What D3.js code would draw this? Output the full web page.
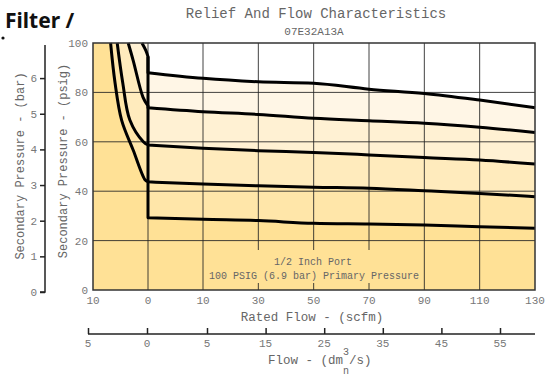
<!DOCTYPE html>
<html><head><meta charset="utf-8">
<script src="https://cdn.jsdelivr.net/npm/d3@7"></script>
<style>body{margin:0;background:#fff}svg{display:block}</style>
</head><body>
<svg id="c" width="548" height="379"></svg>
<script>
// ---- data ----
const titleText = "Relief And Flow Characteristics";
const subtitleText = "07E32A13A";
const scfmTicks = [-10, 0, 10, 30, 50, 70, 90, 110, 130];
const scfmTickLabels = ["10", "0", "10", "30", "50", "70", "90", "110", "130"];
const dmTicks = [-5, 0, 5, 15, 25, 35, 45, 55];
const dmTickLabels = ["5", "0", "5", "15", "25", "35", "45", "55"];
const psigTicks = [0, 20, 40, 60, 80, 100];
const barTicks = [0, 1, 2, 3, 4, 5, 6];

const flowX = [0, 10, 30, 50, 70, 90, 110, 130];
const flow1 = [29.3, 28.6, 28.1, 27.0, 26.7, 26.3, 25.6, 25.0];
const flow2 = [43.8, 42.9, 42.2, 41.6, 41.2, 40.2, 39.1, 37.8];
const flow3 = [58.7, 57.4, 56.4, 55.7, 54.7, 53.6, 52.6, 51.0];
const flow4 = [73.8, 72.2, 71.1, 69.5, 68.5, 67.5, 65.9, 63.8];
const flow5 = [88.0, 85.7, 84.3, 83.7, 81.3, 79.6, 76.9, 73.8];

const relief1X = [-6.8, -6.0, -4.8, -2.7, -0.5, 0];
const relief1P = [100, 84, 68.8, 56.7, 44.5, 43.8];
const relief2X = [-5.6, -4.6, -3.3, -0.85, 0];
const relief2P = [100, 84, 68.8, 60, 58.7];
const relief3X = [-3.6, -2.7, -0.9, 0];
const relief3P = [100, 93, 78, 74.5];
const relief4X = [-1.1, -0.4, 0];
const relief4P = [100, 97, 94.5];
const relief5X = [0];
const relief5P = [94.5];

const bandColors = ["#FFE196", "#FFE6A9", "#FFEBBD", "#FFF1D3", "#FFF6E6"];

// ---- scales ----
const svg = d3.select("#c");
const x = d3.scaleLinear().domain([-10, 0, 10, 130]).range([93, 148, 203, 535]);
const y = d3.scaleLinear().domain([0, 100]).range([290, 43]);
const yBar = d3.scaleLinear().domain([0, 6.9]).range([292, 46]);
const xDm = d3.scaleLinear().domain([-5, 0, 5, 55]).range([88, 147, 207, 500]);

const curves = [
  {rx: relief1X, rp: relief1P, f: flow1},
  {rx: relief2X, rp: relief2P, f: flow2},
  {rx: relief3X, rp: relief3P, f: flow3},
  {rx: relief4X, rp: relief4P, f: flow4},
  {rx: relief5X, rp: relief5P, f: flow5}
];

const reliefLine = d3.line().x(d => x(d[0])).y(d => y(d[1])).curve(d3.curveCatmullRom);
const flowLine = d3.line().x(d => x(d[0])).y(d => y(d[1])).curve(d3.curveMonotoneX);

function curvePath(c) {
  const rpts = c.rx.map((v, i) => [v, c.rp[i]]);
  const fpts = flowX.map((v, i) => [v, c.f[i]]);
  let p = rpts.length > 1 ? reliefLine(rpts) : `M${x(rpts[0][0])},${y(rpts[0][1])}`;
  p += "L" + flowLine(fpts).slice(1);
  return p;
}

// background
svg.append("rect").attr("x", x(-10)).attr("y", y(100)).attr("width", x(130) - x(-10)).attr("height", y(0) - y(100)).attr("fill", "#fff");

// fills: lightest first
for (let i = curves.length - 1; i >= 0; i--) {
  const c = curves[i];
  let p = `M${x(-10)},${y(100)}L${x(c.rx[0])},${y(100)}`;
  p += "L" + curvePath(c).slice(1);
  p += `L${x(130)},${y(0)}L${x(-10)},${y(0)}Z`;
  svg.append("path").attr("d", p).attr("fill", bandColors[i]);
}

// grid
const g = svg.append("g").attr("stroke", "#222").attr("stroke-width", 1).attr("stroke-opacity", 0.85);
scfmTicks.slice(1, -1).forEach(v => g.append("line").attr("x1", x(v)).attr("x2", x(v)).attr("y1", y(0)).attr("y2", y(100)));
psigTicks.slice(1, -1).forEach(v => g.append("line").attr("x1", x(-10)).attr("x2", x(130)).attr("y1", y(v)).attr("y2", y(v)));

const font = "Liberation Mono, DejaVu Sans Mono, monospace";
const gray = "#777";

// annotation box
svg.append("rect").attr("x", 210).attr("y", 250).attr("width", 206).attr("height", 33).attr("fill", bandColors[0]);
const ann = svg.append("g").attr("font-family", font).attr("font-size", 10).attr("fill", "#666").attr("text-anchor", "middle");
ann.append("text").attr("x", 313).attr("y", 265).text("1/2 Inch Port");
ann.append("text").attr("x", 314).attr("y", 279).text("100 PSIG (6.9 bar) Primary Pressure");

// curves
curves.forEach(c => {
  svg.append("path").attr("d", curvePath(c)).attr("fill", "none").attr("stroke", "#000").attr("stroke-width", 3).attr("stroke-linejoin", "round");
});

// border
svg.append("rect").attr("x", x(-10)).attr("y", y(100)).attr("width", x(130) - x(-10)).attr("height", y(0) - y(100))
  .attr("fill", "none").attr("stroke", "#333").attr("stroke-width", 1.5);

// psig labels
const yl = svg.append("g").attr("font-family", font).attr("font-size", 11).attr("fill", gray).attr("text-anchor", "end");
psigTicks.forEach(v => yl.append("text").attr("x", 88).attr("y", y(v) + 4).text(v));

// bar axis
const ba = svg.append("g").attr("transform", "translate(45,0)")
  .call(d3.axisLeft(yBar).tickValues(barTicks).tickSize(5).tickPadding(3).tickFormat(d3.format("d")));
ba.select(".domain").attr("stroke", "#222").attr("stroke-width", 1.5).attr("d", `M-5,${yBar(0)}H0V45`);
ba.selectAll(".tick line").attr("stroke", "#222").attr("stroke-width", 1.5);
ba.selectAll("text").attr("font-family", font).attr("font-size", 11).attr("fill", gray);

// scfm labels
const xl = svg.append("g").attr("font-family", font).attr("font-size", 11).attr("fill", gray).attr("text-anchor", "middle");
scfmTicks.forEach((v, i) => xl.append("text").attr("x", x(v)).attr("y", 304).text(scfmTickLabels[i]));

// dm3 axis
const da = svg.append("g").attr("transform", "translate(0,334)")
  .call(d3.axisTop(xDm).tickValues(dmTicks).tickSize(6).tickFormat(() => ""));
da.select(".domain").attr("stroke", "#222").attr("stroke-width", 1.5).attr("d", `M88,0H535`);
da.selectAll(".tick line").attr("stroke", "#222").attr("stroke-width", 1.5);
const dl = svg.append("g").attr("font-family", font).attr("font-size", 11).attr("fill", gray).attr("text-anchor", "middle");
dmTicks.forEach((v, i) => dl.append("text").attr("x", xDm(v)).attr("y", 347).text(dmTickLabels[i]));

// titles
const tt = svg.append("g").attr("font-family", font).attr("fill", "#666").attr("text-anchor", "middle");
tt.append("text").attr("x", 316).attr("y", 18).attr("font-size", 14).text(titleText);
tt.append("text").attr("x", 314).attr("y", 35).attr("font-size", 11).text(subtitleText);
tt.append("text").attr("x", 312).attr("y", 321).attr("font-size", 12.5).text("Rated Flow - (scfm)");
const ft = tt.append("text").attr("x", 268).attr("y", 364).attr("font-size", 12.5).attr("text-anchor", "start");
ft.append("tspan").text("Flow - (dm");
ft.append("tspan").attr("dy", -9).attr("font-size", 10).text("3");
ft.append("tspan").attr("dx", -6).attr("dy", 19).attr("font-size", 10).text("n");
ft.append("tspan").attr("dy", -10).text("/s)");

tt.append("text").attr("transform", "translate(24,166) rotate(-90)").attr("font-size", 12).text("Secondary Pressure - (bar)");
tt.append("text").attr("transform", "translate(67,161) rotate(-90)").attr("font-size", 12).text("Secondary Pressure - (psig)");

// header
svg.append("text").attr("x", 5).attr("y", 28).attr("font-family", "Noto Sans, sans-serif").attr("font-weight", "bold").attr("font-size", 21).attr("fill", "#111").text("Filter /");
svg.append("circle").attr("cx", 3).attr("cy", 38).attr("r", 1.6).attr("fill", "#111");
</script>
</body></html>
